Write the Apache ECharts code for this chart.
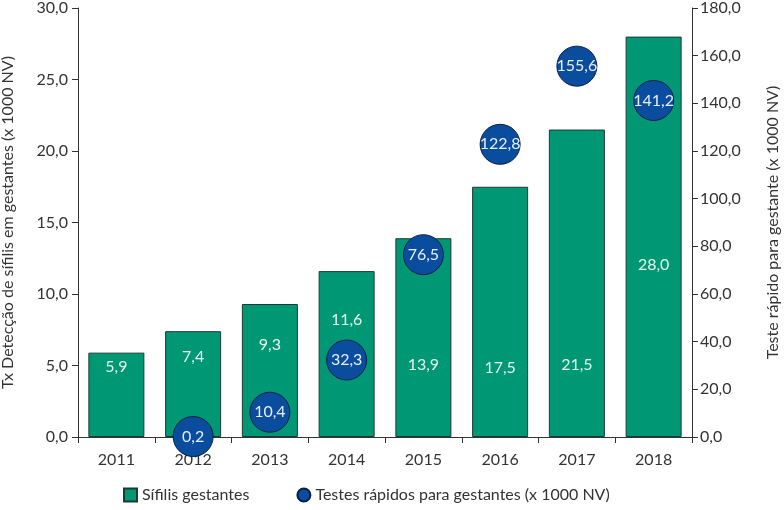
<!DOCTYPE html>
<html><head><meta charset="utf-8">
<script src="https://cdn.jsdelivr.net/npm/echarts@6/dist/echarts.min.js"></script>
<style>html,body{margin:0;padding:0;background:#fff}#c{width:784px;height:510px}</style>
</head><body><div id="c"></div>
<script>
const categories = ['2011','2012','2013','2014','2015','2016','2017','2018'];
const sifilis = [5.9, 7.4, 9.3, 11.6, 13.9, 17.5, 21.5, 28.0];
const testes = [null, 0.2, 10.4, 32.3, 76.5, 122.8, 155.6, 141.2];
const leftTicks = [0,5,10,15,20,25,30];
const rightTicks = [0,20,40,60,80,100,120,140,160,180];

const fmt = v => v.toFixed(1).replace('.', ',');
const FONT = 'Lato';
const labelDist = [62, 72, 84, 109, 64, 61, 64, 164];

const chart = echarts.init(document.getElementById('c'));
chart.setOption({
  animation: false,
  textStyle: {fontFamily: FONT},
  grid: {left: 78, right: 92, top: 8, bottom: 73, containLabel: false, outerBoundsMode: 'none'},
  legend: {
    bottom: 2, left: 118, itemGap: 47, itemWidth: 13, itemHeight: 13,
    textStyle: {fontFamily: FONT, fontSize: 16, color: '#333'},
    data: [{name: 'Sífilis gestantes', icon: 'rect'}, {name: 'Testes rápidos para gestantes (x 1000 NV)', icon: 'circle'}]
  },
  xAxis: {
    type: 'category', data: categories,
    axisLine: {lineStyle: {color: '#333'}},
    axisTick: {show: true, lineStyle: {color: '#333'}, length: 6},
    axisLabel: {fontFamily: FONT, fontSize: 16, color: '#333', margin: 15}
  },
  yAxis: [{
    type: 'value', min: 0, max: 30, interval: 5, position: 'left',
    name: 'Tx Detecção de sífilis em gestantes (x 1000 NV)', nameLocation: 'middle', nameGap: 62, nameRotate: 90,
    nameTextStyle: {fontFamily: FONT, fontSize: 16, color: '#333'},
    axisLine: {show: true, lineStyle: {color: '#333'}},
    axisTick: {show: true, lineStyle: {color: '#333'}, length: 6},
    axisLabel: {fontFamily: FONT, fontSize: 16, color: '#333', formatter: v => fmt(v), margin: 10},
    splitLine: {show: false}
  }, {
    type: 'value', min: 0, max: 180, interval: 20, position: 'right',
    name: 'Teste rápido para gestante (x 1000 NV)', nameLocation: 'middle', nameGap: 73, nameRotate: 90,
    nameTextStyle: {fontFamily: FONT, fontSize: 16, color: '#333'},
    axisLine: {show: true, lineStyle: {color: '#333'}},
    axisTick: {show: true, lineStyle: {color: '#333'}, length: 6},
    axisLabel: {fontFamily: FONT, fontSize: 16, color: '#333', formatter: v => fmt(v), margin: 8},
    splitLine: {show: false}
  }],
  series: [{
    name: 'Sífilis gestantes', type: 'bar', yAxisIndex: 0, barCategoryGap: '27%',
    itemStyle: {color: '#009874', borderColor: '#1c3b33', borderWidth: 1},
    data: sifilis.map((v, i) => ({value: v, label: {distance: labelDist[i]}})),
    label: {show: true, position: 'insideBottom', color: '#e6f5ee', fontFamily: FONT, fontSize: 16, formatter: p => fmt(p.value)},
    z: 2
  }, {
    name: 'Testes rápidos para gestantes (x 1000 NV)', type: 'scatter', yAxisIndex: 1,
    symbol: 'circle', symbolSize: 40,
    itemStyle: {color: '#0a4c9e', borderColor: '#0b1f45', borderWidth: 1, opacity: 1},
    data: testes,
    label: {show: true, position: 'inside', color: '#e6efff', fontFamily: FONT, fontSize: 16, formatter: p => fmt(p.value)},
    z: 3
  }]
});
</script></body></html>
